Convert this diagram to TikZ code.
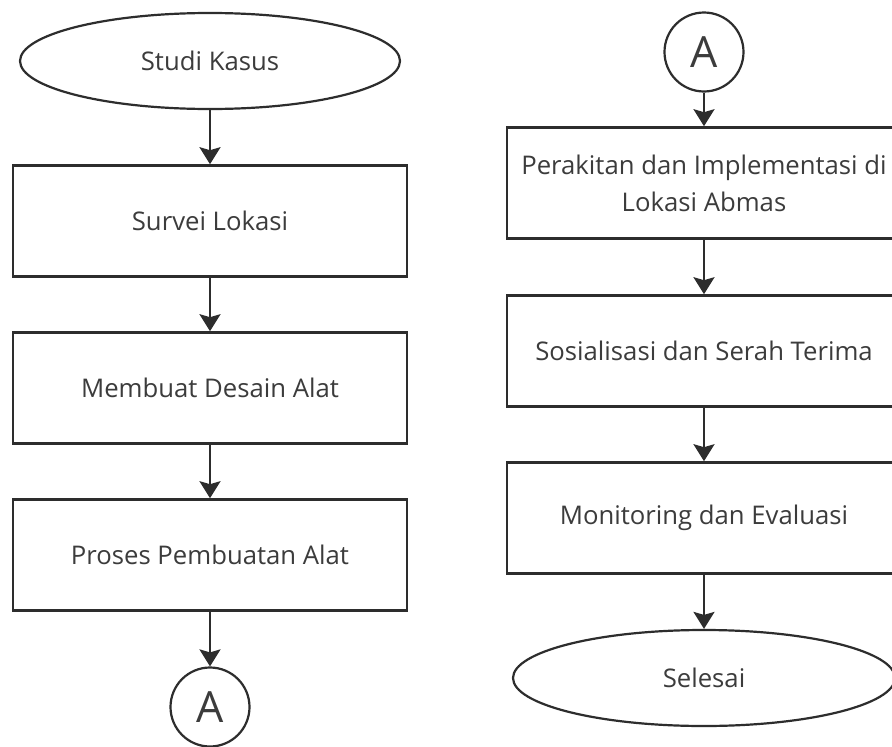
\documentclass[tikz,border=0pt]{standalone}
\usepackage{fontspec}
\setmainfont{Open Sans}
\usepackage{tikz}
\usetikzlibrary{arrows.meta,positioning,shapes.geometric}
\definecolor{lineg}{RGB}{45,45,45}
\definecolor{textg}{RGB}{60,60,60}

\tikzset{
  startstop/.style={ellipse, draw=lineg, line width=2.2pt, inner sep=0pt,
    minimum width=380pt, minimum height=96pt, text=textg},
  process/.style={rectangle, draw=lineg, line width=2.6pt, inner sep=0pt,
    minimum width=394pt, minimum height=111pt, text=textg, align=center},
  connector/.style={circle, draw=lineg, line width=2.2pt, inner sep=0pt,
    minimum size=79pt, text=textg, font=\fontsize{43}{43}\selectfont},
  arrow/.style={->, draw=lineg, line width=2.2pt}
}

\begin{document}
\begin{tikzpicture}[x=1pt, y=-1pt, >={Stealth[length=17pt,width=21pt,inset=3pt]},
  font=\fontsize{25.7}{37}\selectfont]
\useasboundingbox (0,0) rectangle (892,747);
\clip (0,0) rectangle (892,747);
\fill[white] (0,0) rectangle (892,747);

% left column
\node[startstop] (studi) at (210,61) {Studi Kasus};
\node[process] (survei) at (210,221) {Survei Lokasi};
\node[process] (desain) at (210,388) {Membuat Desain Alat};
\node[process] (proses) at (210,555) {Proses Pembuatan Alat};
\node[connector] (conA) at (210,707) {A};

% right column
\node[connector] (conB) at (704,52) {A};
\node[process] (rakit) at (704,183) {Perakitan dan Implementasi di\\Lokasi Abmas};
\node[process] (sosial) at (704,351) {Sosialisasi dan Serah Terima};
\node[process] (monitor) at (704,518) {Monitoring dan Evaluasi};
\node[startstop, minimum width=382pt] (selesai) at (704,678) {Selesai};

\foreach \a/\b in {studi/survei, survei/desain, desain/proses, proses/conA,
                   conB/rakit, rakit/sosial, sosial/monitor, monitor/selesai}{
  \draw[arrow] (\a) -- (\b);
}
\end{tikzpicture}
\end{document}
